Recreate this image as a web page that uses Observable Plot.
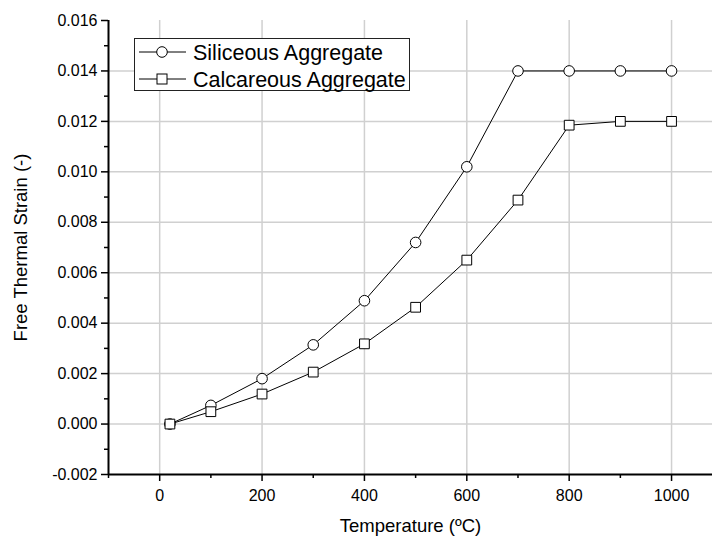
<!DOCTYPE html>
<html><head><meta charset="utf-8">
<script src="https://cdn.jsdelivr.net/npm/d3@7"></script>
<script src="https://cdn.jsdelivr.net/npm/@observablehq/plot@0.6"></script>
<style>
body{margin:0;background:#fff;}
#chart{position:relative;width:712px;height:542px;font-family:"Liberation Sans",Arial,sans-serif;}
#legend{position:absolute;left:134px;top:38px;}
</style></head><body><div id="chart"></div>
<script>
const temps = [20, 100, 200, 300, 400, 500, 600, 700, 800, 900, 1000];
const siliceous = [0.0000, 0.00074, 0.0018, 0.00314, 0.00489, 0.0072, 0.0102, 0.014, 0.014, 0.014, 0.014];
const calcareous = [0.0000, 0.00049, 0.00119, 0.00206, 0.00318, 0.00463, 0.0065, 0.00888, 0.01185, 0.012, 0.012];
const seriesNames = ["Siliceous Aggregate", "Calcareous Aggregate"];
const xMajorTicks = [0, 200, 400, 600, 800, 1000];
const xMinorTicks = [-100, 100, 300, 500, 700, 900];
const yMajorTicks = [-0.002, 0.000, 0.002, 0.004, 0.006, 0.008, 0.010, 0.012, 0.014, 0.016];
const yMinorTicks = [-0.001, 0.001, 0.003, 0.005, 0.007, 0.009, 0.011, 0.013, 0.015];
const yGridTicks = [0.000, 0.002, 0.004, 0.006, 0.008, 0.010, 0.012, 0.014];
const xTitle = "Temperature (ºC)";
const yTitle = "Free Thermal Strain (-)";

const silData = temps.map((t, i) => ({t, v: siliceous[i], s: seriesNames[0]}));
const calData = temps.map((t, i) => ({t, v: calcareous[i], s: seriesNames[1]}));
const gridColor = "#d0d0d0";

const plot = Plot.plot({
  width: 712, height: 542,
  marginLeft: 108, marginRight: 0, marginTop: 20, marginBottom: 68,
  style: {fontFamily: "'Liberation Sans', Arial, sans-serif", fontSize: "16px", background: "white", color: "black", overflow: "visible"},
  x: {domain: [-100, 1080]},
  y: {domain: [-0.002, 0.016]},
  marks: [
    Plot.gridX(xMajorTicks, {stroke: gridColor, strokeOpacity: 1, strokeWidth: 1.5}),
    Plot.gridY(yGridTicks, {stroke: gridColor, strokeOpacity: 1, strokeWidth: 1.5}),
    Plot.axisX(xMajorTicks, {tickSize: 7, tickPadding: 8, strokeWidth: 1.5, fontSize: 16, tickFormat: d => String(d), label: null}),
    Plot.axisX(xMinorTicks, {tickSize: 4, strokeWidth: 1.5, tickFormat: () => "", label: null}),
    Plot.axisY(yMajorTicks, {tickSize: 7, tickPadding: 4, strokeWidth: 1.5, fontSize: 16, tickFormat: d => d.toFixed(3), label: null}),
    Plot.axisY(yMinorTicks, {tickSize: 4, strokeWidth: 1.5, tickFormat: () => "", label: null}),
    Plot.ruleX([-100], {stroke: "black", strokeWidth: 2}),
    Plot.ruleY([-0.002], {stroke: "black", strokeWidth: 2}),
    Plot.line(silData, {x: "t", y: "v", stroke: "black", strokeWidth: 1}),
    Plot.line(calData, {x: "t", y: "v", stroke: "black", strokeWidth: 1}),
    Plot.dot(silData, {x: "t", y: "v", r: 5.3, fill: "white", stroke: "black", strokeWidth: 1}),
    Plot.dot(calData, {x: "t", y: "v", symbol: "square", r: 5.5, fill: "white", stroke: "black", strokeWidth: 1}),
    Plot.text([xTitle], {frameAnchor: "bottom", textAnchor: "middle", lineAnchor: "middle", dy: 52, fontSize: 18.5, text: d => d}),
    Plot.text([yTitle], {frameAnchor: "left", textAnchor: "middle", lineAnchor: "middle", dx: -87, rotate: -90, fontSize: 18.5, text: d => d})
  ]
});
const chart = document.getElementById("chart");
chart.appendChild(plot);

// legend
const lg = d3.create("svg").attr("id", "legend").attr("width", 278).attr("height", 55);
lg.append("rect").attr("x", 0.5).attr("y", 0.5).attr("width", 275).attr("height", 52)
  .attr("fill", "white").attr("stroke", "#222").attr("stroke-width", 1);
const rows = lg.selectAll("g").data(seriesNames).join("g")
  .attr("transform", (d, i) => `translate(0,${14 + i * 27})`);
rows.append("line").attr("x1", 5).attr("x2", 52).attr("y1", 0).attr("y2", 0).attr("stroke", "black");
rows.filter((d, i) => i === 0).append("circle").attr("cx", 28).attr("cy", 0).attr("r", 5.3)
  .attr("fill", "white").attr("stroke", "black");
rows.filter((d, i) => i === 1).append("rect").attr("x", 23).attr("y", -5).attr("width", 10).attr("height", 10)
  .attr("fill", "white").attr("stroke", "black");
rows.append("text").attr("x", 59).attr("y", 0).attr("dy", "0.36em")
  .attr("font-family", "'Liberation Sans', Arial, sans-serif").attr("font-size", 21.5).text(d => d);
chart.appendChild(lg.node());
</script></body></html>
